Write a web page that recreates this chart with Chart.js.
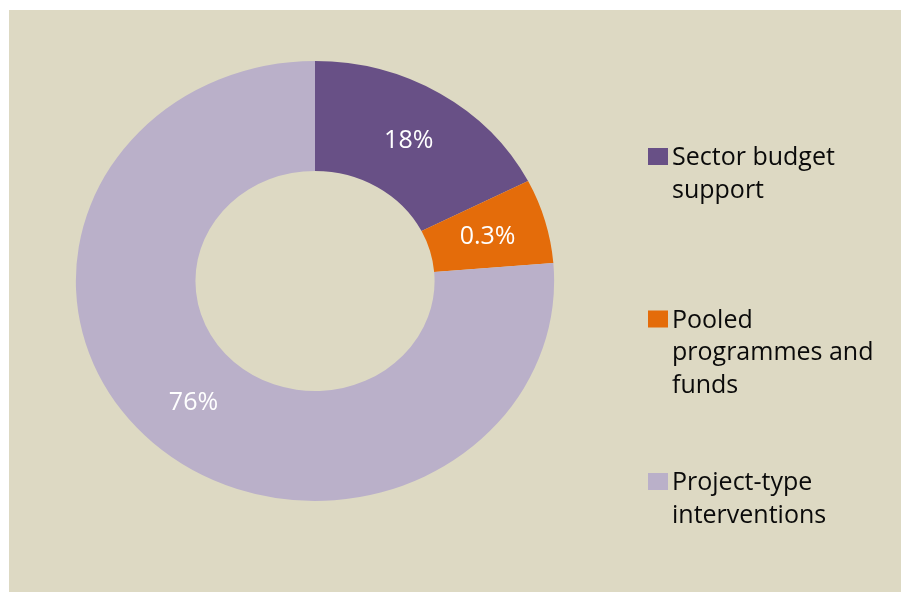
<!DOCTYPE html>
<html>
<head>
<meta charset="utf-8">
<script src="https://cdn.jsdelivr.net/npm/chart.js@4/dist/chart.umd.min.js"></script>
<style>
  html, body { margin: 0; padding: 0; background: #ffffff; }
  #wrap { width: 901px; height: 592px; }
</style>
</head>
<body>
<div id="wrap"><canvas id="c" width="901" height="592"></canvas></div>
<script>
// ---- data ----
const categories = ["Sector budget support", "Pooled programmes and funds", "Project-type interventions"];
const legendLines = [["Sector budget", "support"], ["Pooled", "programmes and", "funds"], ["Project-type", "interventions"]];
const shares = [17.5, 6.2, 76.3];               // drawn slice sizes
const shareLabels = ["18%", "0.3%", "76%"];      // labels as printed on the chart
const sliceColors = ["#685086", "#E46C0A", "#BAB0C9"];

// ---- style constants ----
const BG = "#DDD9C3";
const STRETCH_X = 1.087;   // the reference donut is slightly wider than tall
const FONT = "'Open Sans', 'Noto Sans', sans-serif";

const backgroundPlugin = {
  id: 'bgPanel',
  beforeDraw(chart) {
    const ctx = chart.ctx;
    ctx.save();
    ctx.fillStyle = '#ffffff';
    ctx.fillRect(0, 0, chart.width, chart.height);
    ctx.fillStyle = BG;
    ctx.fillRect(9, 10, chart.width - 9, chart.height - 10);
    ctx.restore();
  }
};

function centerOf(chart) {
  const a = chart.chartArea;
  return { x: (a.left + a.right) / 2, y: (a.top + a.bottom) / 2 };
}

const stretchPlugin = {
  id: 'stretch',
  beforeDatasetsDraw(chart) {
    const ctx = chart.ctx, c = centerOf(chart);
    ctx.save();
    ctx.translate(c.x, c.y);
    ctx.scale(STRETCH_X, 1);
    ctx.translate(-c.x, -c.y);
  },
  afterDatasetsDraw(chart) {
    chart.ctx.restore();
  }
};

const labelPlugin = {
  id: 'sliceLabels',
  afterDraw(chart) {
    const ctx = chart.ctx, c = centerOf(chart);
    const meta = chart.getDatasetMeta(0);
    ctx.save();
    ctx.font = "25px " + FONT;
    ctx.fillStyle = "#ffffff";
    ctx.textAlign = "center";
    ctx.textBaseline = "middle";
    meta.data.forEach((arc, i) => {
      const p = arc.getCenterPoint();
      const x = c.x + (p.x - c.x) * STRETCH_X;
      ctx.fillText(shareLabels[i], x, p.y + 1);
    });
    ctx.restore();
  }
};

const legendPlugin = {
  id: 'customLegend',
  afterDraw(chart) {
    const ctx = chart.ctx;
    const boxX = 648, textX = 672, firstBaseline = 165, itemStep = 162.5, lineH = 32.5;
    ctx.save();
    ctx.font = "25px " + FONT;
    ctx.textAlign = "left";
    ctx.textBaseline = "alphabetic";
    legendLines.forEach((lines, i) => {
      const base = firstBaseline + i * itemStep;
      ctx.fillStyle = sliceColors[i];
      ctx.fillRect(boxX, base - 17, 20, 17);
      ctx.fillStyle = "#0A0A0A";
      lines.forEach((t, j) => ctx.fillText(t, textX, base + j * lineH));
    });
    ctx.restore();
  }
};

new Chart(document.getElementById('c'), {
  type: 'doughnut',
  data: {
    labels: categories,
    datasets: [{
      data: shares,
      backgroundColor: sliceColors,
      borderWidth: 0,
      hoverOffset: 0
    }]
  },
  options: {
    responsive: false,
    animation: false,
    cutout: '50%',
    layout: { padding: { left: 95, right: 366, top: 61, bottom: 91 } },
    plugins: {
      legend: { display: false },
      tooltip: { enabled: false },
      title: { display: false }
    }
  },
  plugins: [backgroundPlugin, stretchPlugin, labelPlugin, legendPlugin]
});
</script>
</body>
</html>
